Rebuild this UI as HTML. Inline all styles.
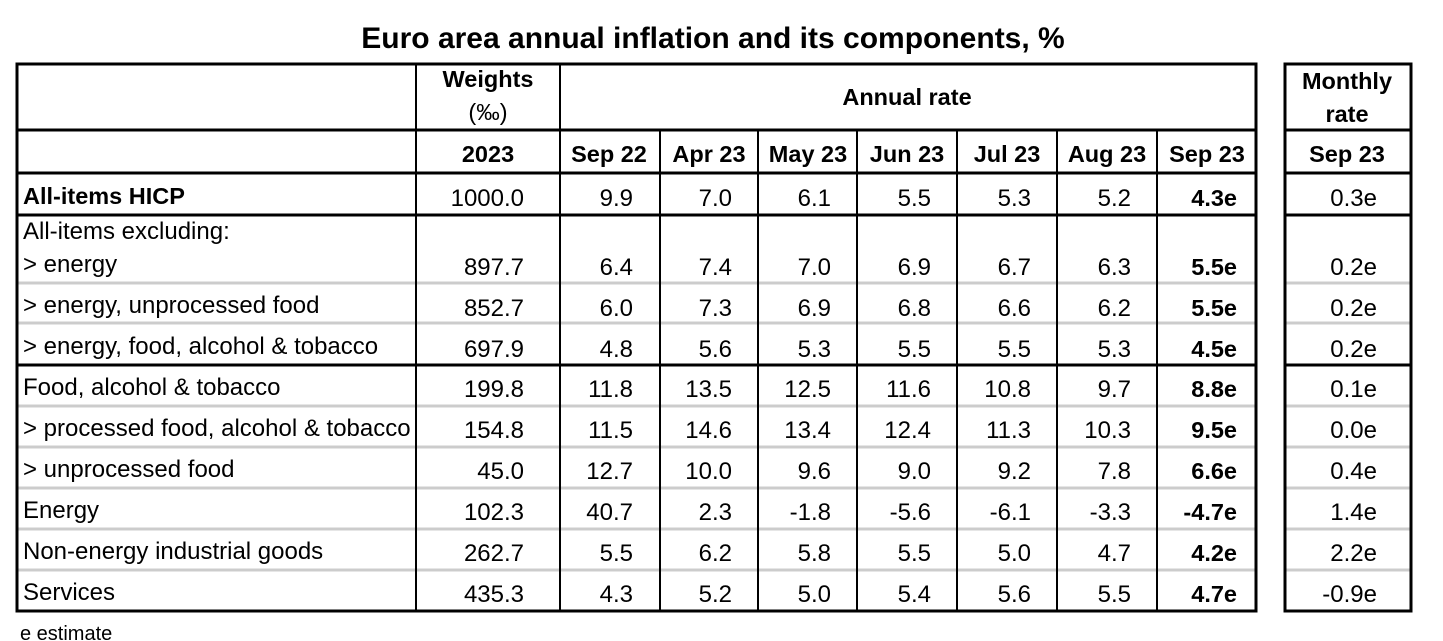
<!DOCTYPE html>
<html><head><meta charset="utf-8"><style>body{margin:0;background:#fff}svg{display:block}text{font-family:"Liberation Sans",Arial,sans-serif;fill:#000}</style></head><body>
<svg width="1443" height="641" xmlns="http://www.w3.org/2000/svg">
<text x="713" y="48" font-size="30" font-weight="bold" text-anchor="middle">Euro area annual inflation and its components, %</text>
<g stroke="#ccc" stroke-width="3">
<line x1="17" x2="1256" y1="283" y2="283"/><line x1="17" x2="1256" y1="323" y2="323"/>
<line x1="17" x2="1256" y1="406" y2="406"/><line x1="17" x2="1256" y1="447" y2="447"/><line x1="17" x2="1256" y1="488" y2="488"/><line x1="17" x2="1256" y1="529" y2="529"/><line x1="17" x2="1256" y1="570" y2="570"/>
<line x1="1285" x2="1411" y1="283" y2="283"/><line x1="1285" x2="1411" y1="323" y2="323"/>
<line x1="1285" x2="1411" y1="406" y2="406"/><line x1="1285" x2="1411" y1="447" y2="447"/><line x1="1285" x2="1411" y1="488" y2="488"/><line x1="1285" x2="1411" y1="529" y2="529"/><line x1="1285" x2="1411" y1="570" y2="570"/>
</g>
<g stroke="#000" stroke-width="3" fill="none">
<rect x="17" y="64" width="1239" height="547"/>
<rect x="1285" y="64" width="126" height="547"/>
<line x1="17" x2="1256" y1="130" y2="130"/><line x1="17" x2="1256" y1="173" y2="173"/><line x1="17" x2="1256" y1="215" y2="215"/><line x1="17" x2="1256" y1="365" y2="365"/>
<line x1="1285" x2="1411" y1="130" y2="130"/><line x1="1285" x2="1411" y1="173" y2="173"/><line x1="1285" x2="1411" y1="215" y2="215"/><line x1="1285" x2="1411" y1="365" y2="365"/>
</g>
<g stroke="#000" stroke-width="2">
<line x1="416" x2="416" y1="64" y2="611"/><line x1="560" x2="560" y1="64" y2="611"/>
<line x1="660" x2="660" y1="130" y2="611"/><line x1="758" x2="758" y1="130" y2="611"/><line x1="857" x2="857" y1="130" y2="611"/><line x1="957" x2="957" y1="130" y2="611"/><line x1="1057" x2="1057" y1="130" y2="611"/><line x1="1157" x2="1157" y1="130" y2="611"/>
</g>
<g font-size="23.5" font-weight="bold" text-anchor="middle">
<text x="488" y="87">Weights</text><text x="488" y="120" font-weight="normal">(‰)</text>
<text x="907" y="105">Annual rate</text>
<text x="1347" y="89">Monthly</text><text x="1347" y="122">rate</text>
<text x="488" y="162">2023</text><text x="609" y="162">Sep 22</text><text x="709" y="162">Apr 23</text><text x="808" y="162">May 23</text><text x="907" y="162">Jun 23</text><text x="1007" y="162">Jul 23</text><text x="1107" y="162">Aug 23</text><text x="1207" y="162">Sep 23</text><text x="1347" y="162">Sep 23</text>
</g>
<g font-size="24">
<text x="23" y="204" font-weight="bold" font-size="23.5">All-items HICP</text>
<text x="23" y="239">All-items excluding:</text>
<text x="23" y="272">&gt; energy</text>
<text x="23" y="313">&gt; energy, unprocessed food</text>
<text x="23" y="354">&gt; energy, food, alcohol &amp; tobacco</text>
<text x="23" y="395">Food, alcohol &amp; tobacco</text>
<text x="23" y="436">&gt; processed food, alcohol &amp; tobacco</text>
<text x="23" y="477">&gt; unprocessed food</text>
<text x="23" y="518">Energy</text>
<text x="23" y="559">Non-energy industrial goods</text>
<text x="23" y="600">Services</text>
<text x="20" y="640" font-size="20">e estimate</text>
</g>
<g font-size="24" text-anchor="end">
<text x="524" y="206">1000.0</text><text x="633" y="206">9.9</text><text x="732" y="206">7.0</text><text x="831" y="206">6.1</text><text x="931" y="206">5.5</text><text x="1031" y="206">5.3</text><text x="1131" y="206">5.2</text><text x="1237" y="206" font-weight="bold" font-size="23.5">4.3e</text><text x="1377" y="206">0.3e</text>
<text x="524" y="275">897.7</text><text x="633" y="275">6.4</text><text x="732" y="275">7.4</text><text x="831" y="275">7.0</text><text x="931" y="275">6.9</text><text x="1031" y="275">6.7</text><text x="1131" y="275">6.3</text><text x="1237" y="275" font-weight="bold" font-size="23.5">5.5e</text><text x="1377" y="275">0.2e</text>
<text x="524" y="316">852.7</text><text x="633" y="316">6.0</text><text x="732" y="316">7.3</text><text x="831" y="316">6.9</text><text x="931" y="316">6.8</text><text x="1031" y="316">6.6</text><text x="1131" y="316">6.2</text><text x="1237" y="316" font-weight="bold" font-size="23.5">5.5e</text><text x="1377" y="316">0.2e</text>
<text x="524" y="357">697.9</text><text x="633" y="357">4.8</text><text x="732" y="357">5.6</text><text x="831" y="357">5.3</text><text x="931" y="357">5.5</text><text x="1031" y="357">5.5</text><text x="1131" y="357">5.3</text><text x="1237" y="357" font-weight="bold" font-size="23.5">4.5e</text><text x="1377" y="357">0.2e</text>
<text x="524" y="397">199.8</text><text x="633" y="397">11.8</text><text x="732" y="397">13.5</text><text x="831" y="397">12.5</text><text x="931" y="397">11.6</text><text x="1031" y="397">10.8</text><text x="1131" y="397">9.7</text><text x="1237" y="397" font-weight="bold" font-size="23.5">8.8e</text><text x="1377" y="397">0.1e</text>
<text x="524" y="438">154.8</text><text x="633" y="438">11.5</text><text x="732" y="438">14.6</text><text x="831" y="438">13.4</text><text x="931" y="438">12.4</text><text x="1031" y="438">11.3</text><text x="1131" y="438">10.3</text><text x="1237" y="438" font-weight="bold" font-size="23.5">9.5e</text><text x="1377" y="438">0.0e</text>
<text x="524" y="479">45.0</text><text x="633" y="479">12.7</text><text x="732" y="479">10.0</text><text x="831" y="479">9.6</text><text x="931" y="479">9.0</text><text x="1031" y="479">9.2</text><text x="1131" y="479">7.8</text><text x="1237" y="479" font-weight="bold" font-size="23.5">6.6e</text><text x="1377" y="479">0.4e</text>
<text x="524" y="520">102.3</text><text x="633" y="520">40.7</text><text x="732" y="520">2.3</text><text x="831" y="520">-1.8</text><text x="931" y="520">-5.6</text><text x="1031" y="520">-6.1</text><text x="1131" y="520">-3.3</text><text x="1237" y="520" font-weight="bold" font-size="23.5">-4.7e</text><text x="1377" y="520">1.4e</text>
<text x="524" y="561">262.7</text><text x="633" y="561">5.5</text><text x="732" y="561">6.2</text><text x="831" y="561">5.8</text><text x="931" y="561">5.5</text><text x="1031" y="561">5.0</text><text x="1131" y="561">4.7</text><text x="1237" y="561" font-weight="bold" font-size="23.5">4.2e</text><text x="1377" y="561">2.2e</text>
<text x="524" y="602">435.3</text><text x="633" y="602">4.3</text><text x="732" y="602">5.2</text><text x="831" y="602">5.0</text><text x="931" y="602">5.4</text><text x="1031" y="602">5.6</text><text x="1131" y="602">5.5</text><text x="1237" y="602" font-weight="bold" font-size="23.5">4.7e</text><text x="1377" y="602">-0.9e</text>
</g>
</svg>
</body></html>
